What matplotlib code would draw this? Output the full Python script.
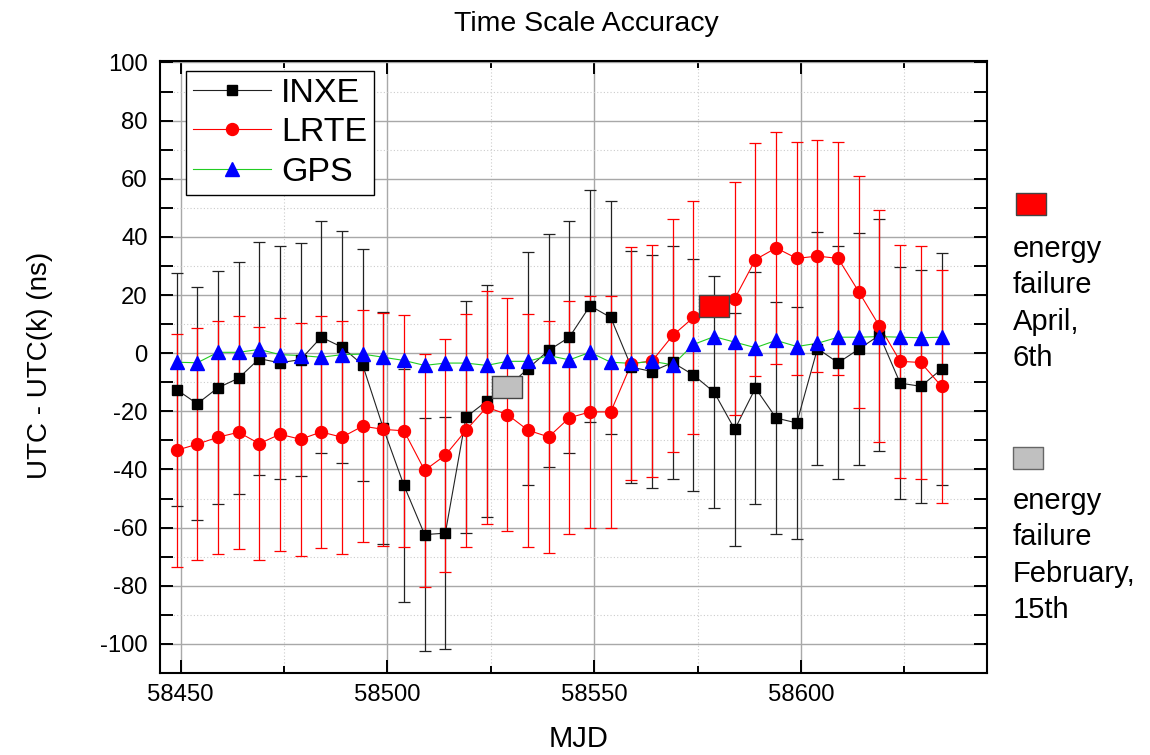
import numpy as np
import matplotlib
matplotlib.use('Agg')
import matplotlib.pyplot as plt
from matplotlib.lines import Line2D
from matplotlib.ticker import MultipleLocator

plt.rcParams['font.family'] = ['Liberation Sans', 'DejaVu Sans']
plt.rcParams['axes.unicode_minus'] = False

# --- data ---
mjd = [58449, 58454, 58459, 58464, 58469, 58474, 58479, 58484, 58489, 58494,
       58499, 58504, 58509, 58514, 58519, 58524, 58529, 58534, 58539, 58544,
       58549, 58554, 58559, 58564, 58569, 58574, 58579, 58584, 58589, 58594,
       58599, 58604, 58609, 58614, 58619, 58624, 58629, 58634]
inxe = [-12.5, -17.4, -11.9, -8.6, -1.9, -3.3, -2.2, 5.5, 2.1, -4.0,
        -25.8, -45.5, -62.4, -61.9, -22.0, -16.5, -11.7, -5.3, 1.0, 5.5,
        16.3, 12.3, -4.8, -6.3, -3.2, -7.5, -13.4, -26.2, -12.0, -22.3,
        -24.0, 1.6, -3.3, 1.4, 6.2, -10.3, -11.4, -5.5]
lrte = [-33.4, -31.3, -28.9, -27.2, -31.1, -27.9, -29.6, -27.1, -28.9, -25.1,
        -26.2, -26.7, -40.3, -35.1, -26.5, -18.6, -21.1, -26.5, -28.8, -22.2,
        -20.2, -20.2, -3.6, -2.7, 6.1, 12.3, 16.2, 18.8, 32.2, 36.2,
        32.6, 33.4, 32.6, 21.1, 9.3, -2.8, -3.2, -11.4]
gps = [-3.1, -3.3, 0.3, 0.3, 1.3, -0.5, -0.8, -1.4, -0.5, -0.3,
       -1.4, -2.5, -4.2, -3.4, -3.4, -4.2, -2.8, -2.8, -0.8, -2.3,
       0.3, -3.1, -3.5, -2.8, -4.0, 3.0, 5.7, 3.8, 1.9, 4.4,
       2.3, 3.4, 5.5, 5.5, 5.7, 5.5, 5.3, 5.5]
err_ns = 40          # +/- error bar of both time scales
feb_mjd = 58529      # energy failure February 15th (INXE point)
apr_mjd = 58579      # energy failure April 6th (LRTE point)

feb_i = mjd.index(feb_mjd)
apr_i = mjd.index(apr_mjd)

inxe_err = np.full(len(mjd), err_ns, dtype=float)
inxe_err[feb_i] = np.nan
lrte_err = np.full(len(mjd), err_ns, dtype=float)
lrte_err[apr_i] = np.nan
inxe_pts = np.array(inxe, dtype=float)
inxe_pts[feb_i] = np.nan
lrte_pts = np.array(lrte, dtype=float)
lrte_pts[apr_i] = np.nan

rect = [(-1.3, -1), (1.3, -1), (1.3, 1), (-1.3, 1), (-1.3, -1)]
green = '#22cc22'

fig = plt.figure(figsize=(11.5, 7.55), dpi=100)
ax = fig.add_axes([160 / 1150, 1 - 673 / 755, 827 / 1150, 612 / 755])

# connecting lines
ax.plot(mjd, inxe, color='#222222', lw=0.8, zorder=2)
ax.plot(mjd, lrte, color='red', lw=0.8, zorder=2)
ax.plot(mjd, gps, color=green, lw=0.8, zorder=2)

# error bars
ax.errorbar(mjd, inxe, yerr=inxe_err, fmt='none', ecolor='#222222',
            elinewidth=0.9, capsize=4.5, capthick=0.9, zorder=3)
ax.errorbar(mjd, lrte, yerr=lrte_err, fmt='none', ecolor='red',
            elinewidth=0.9, capsize=4.5, capthick=0.9, zorder=4)

# symbols
ax.plot(mjd, inxe_pts, ls='none', marker='s', ms=7.6, color='black', zorder=5)
ax.plot(mjd, lrte_pts, ls='none', marker='o', ms=8.6, color='red', zorder=6)
ax.plot(mjd, gps, ls='none', marker='^', ms=10, color='blue', zorder=7)

# energy failure points
ax.plot([feb_mjd], [inxe[feb_i]], ls='none', marker=rect, ms=20.9,
        mfc='#c0c0c0', mec='#444444', mew=1, zorder=8)
ax.plot([apr_mjd], [lrte[apr_i]], ls='none', marker=rect, ms=20.9,
        mfc='red', mec='#444444', mew=1, zorder=8)

ax.set_xlim(58445, 58645)
ax.set_ylim(-110, 100.5)
ax.xaxis.set_major_locator(MultipleLocator(50))
ax.xaxis.set_minor_locator(MultipleLocator(25))
ax.yaxis.set_major_locator(MultipleLocator(20))
ax.yaxis.set_minor_locator(MultipleLocator(10))

ax.grid(True, which='major', color='#a8a8a8', lw=1.0)
ax.grid(True, which='minor', color='#cccccc', lw=0.8, linestyle=(0, (1, 2)))
ax.set_axisbelow(True)

for sp in ax.spines.values():
    sp.set_linewidth(1.5)
ax.tick_params(which='both', direction='in', top=True, right=True,
               width=1.4, labelsize=17.2)
ax.tick_params(which='major', length=9.5)
ax.tick_params(axis='x', which='minor', length=5)
ax.tick_params(axis='y', which='minor', length=9.5)
ax.tick_params(axis='x', which='major', pad=8)
ax.tick_params(axis='y', which='major', pad=9)

handles = [
    Line2D([], [], color='#222222', lw=0.8, marker='s', ms=7.6, mfc='black', mec='black'),
    Line2D([], [], color='red', lw=0.8, marker='o', ms=8.6, mfc='red', mec='red'),
    Line2D([], [], color=green, lw=0.8, marker='^', ms=10, mfc='blue', mec='blue'),
]
leg = ax.legend(handles, ['INXE', 'LRTE', 'GPS'], loc='upper left',
                bbox_to_anchor=(26 / 827, 1 - 10 / 612), borderaxespad=0,
                fontsize=24.5, handlelength=2.3, handletextpad=0.3,
                labelspacing=0.25, borderpad=0.2, fancybox=False,
                framealpha=1, edgecolor='black')
leg.get_frame().set_linewidth(1.0)
leg.set_zorder(10)

fig.text(586 / 1150, 1 - 31 / 755, 'Time Scale Accuracy', ha='center',
         va='baseline', fontsize=20.5)
fig.text(579 / 1150, 1 - 747 / 755, 'MJD', ha='center', va='baseline', fontsize=21)
fig.text(40 / 1150, 1 - 365 / 755, 'UTC - UTC(k) (ns)', ha='center', va='center',
         rotation=90, fontsize=20)

# side notes for the two energy failures
fig.add_artist(Line2D([1031 / 1150], [1 - 203.5 / 755], ls='none', marker=rect,
                      ms=20.9, mfc='red', mec='#444444', mew=1,
                      transform=fig.transFigure))
fig.add_artist(Line2D([1028 / 1150], [1 - 457.5 / 755], ls='none', marker=rect,
                      ms=20.9, mfc='#c0c0c0', mec='#666666', mew=1,
                      transform=fig.transFigure))
fig.text(1013 / 1150, 1 - 235 / 755, 'energy\nfailure\nApril,\n6th',
         ha='left', va='top', fontsize=21, linespacing=1.38)
fig.text(1013 / 1150, 1 - 487 / 755, 'energy\nfailure\nFebruary,\n15th',
         ha='left', va='top', fontsize=21, linespacing=1.38)

fig.savefig('out.png', dpi=100)
